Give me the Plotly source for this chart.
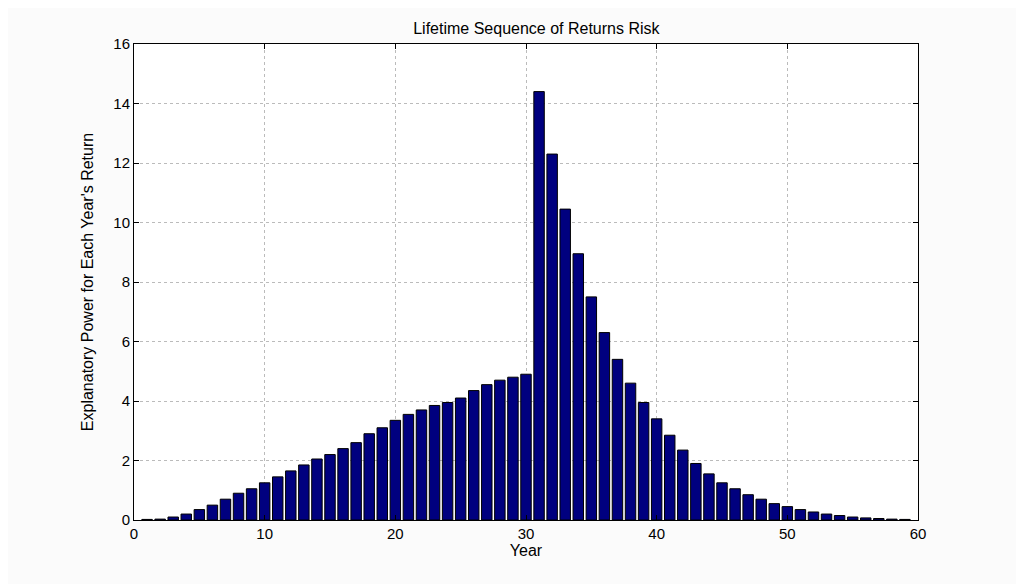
import plotly.graph_objects as go

years = list(range(1, 60))
power = [0.02, 0.03, 0.1, 0.2, 0.35, 0.5, 0.7, 0.9, 1.05, 1.25,
         1.45, 1.65, 1.85, 2.05, 2.2, 2.4, 2.6, 2.9, 3.1, 3.35,
         3.55, 3.7, 3.85, 3.95, 4.1, 4.35, 4.55, 4.7, 4.8, 4.9,
         14.4, 12.3, 10.45, 8.95, 7.5, 6.3, 5.4, 4.6, 3.95, 3.4,
         2.85, 2.35, 1.9, 1.55, 1.25, 1.05, 0.85, 0.7, 0.55, 0.45,
         0.35, 0.27, 0.2, 0.15, 0.1, 0.07, 0.05, 0.03, 0.02]

fig = go.Figure(go.Bar(x=years, y=power, width=0.8,
                       marker=dict(color="#00007f", line=dict(color="black", width=1))))

axis = dict(showline=True, linecolor="black", mirror="allticks", ticks="inside",
            ticklen=5, tickcolor="black", showgrid=True, gridcolor="#bbbbbb",
            griddash="dot", zeroline=False, tickfont=dict(size=15, color="black"))
fig.update_xaxes(axis, range=[0, 60], dtick=10, title=dict(text="Year", standoff=2, font=dict(size=16)))
fig.update_yaxes(axis, range=[0, 16], dtick=2,
                 title=dict(text="Explanatory Power for Each Year's Return", font=dict(size=16)))
fig.update_layout(
    width=1024, height=584,
    margin=dict(l=126, r=114, t=36, b=72),
    title=dict(text="Lifetime Sequence of Returns Risk", x=0.516, y=0.975,
               font=dict(size=16, color="black")),
    font=dict(family="Liberation Sans, Arial", color="black"),
    paper_bgcolor="#fbfbfb", plot_bgcolor="white", bargap=0.2,
)
fig.write_html("out.html")
